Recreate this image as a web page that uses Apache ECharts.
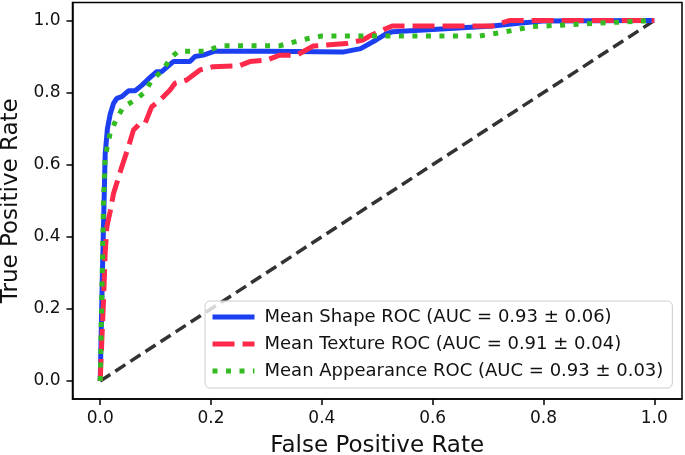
<!DOCTYPE html>
<html>
<head>
<meta charset="utf-8">
<script src="https://cdn.jsdelivr.net/npm/echarts@6/dist/echarts.min.js"></script>
<style>html,body{margin:0;padding:0;background:#fff;}#c{width:685px;height:455px;}</style>
</head>
<body>
<div id="c"></div>
<script>
const tickValues = [0, 0.2, 0.4, 0.6, 0.8, 1.0];
const seriesNames = ['Mean Shape ROC (AUC = 0.93 ± 0.06)', 'Mean Texture ROC (AUC = 0.91 ± 0.04)', 'Mean Appearance ROC (AUC = 0.93 ± 0.03)'];
const shapeFpr = [0, 0.004, 0.007, 0.009, 0.013, 0.018, 0.024, 0.03, 0.039, 0.051, 0.063, 0.075, 0.087, 0.102, 0.111, 0.132, 0.162, 0.171, 0.186, 0.207, 0.30, 0.44, 0.47, 0.498, 0.515, 0.528, 0.6, 0.708, 0.76, 0.804, 1.0];
const shapeTpr = [0, 0.3, 0.5, 0.63, 0.70, 0.74, 0.77, 0.784, 0.789, 0.805, 0.805, 0.82, 0.838, 0.858, 0.858, 0.886, 0.886, 0.9, 0.904, 0.915, 0.915, 0.913, 0.922, 0.946, 0.962, 0.969, 0.975, 0.985, 0.993, 0.999, 1.0];
const textureFpr = [0, 0.003, 0.006, 0.009, 0.012, 0.018, 0.024, 0.039, 0.051, 0.06, 0.072, 0.081, 0.093, 0.108, 0.126, 0.135, 0.156, 0.18, 0.204, 0.25, 0.27, 0.30, 0.324, 0.355, 0.384, 0.444, 0.474, 0.49, 0.527, 0.708, 0.738, 1.0];
const textureTpr = [0, 0.114, 0.225, 0.355, 0.428, 0.47, 0.52, 0.594, 0.65, 0.696, 0.715, 0.715, 0.761, 0.779, 0.807, 0.826, 0.835, 0.863, 0.872, 0.874, 0.886, 0.89, 0.904, 0.904, 0.929, 0.936, 0.946, 0.96, 0.985, 0.985, 1.0, 1.0];
const appearanceFpr = [0, 0.003, 0.006, 0.009, 0.018, 0.03, 0.042, 0.063, 0.081, 0.093, 0.114, 0.126, 0.141, 0.192, 0.216, 0.324, 0.369, 0.40, 0.684, 0.732, 0.78, 0.888, 0.984, 1.0];
const appearanceTpr = [0, 0.25, 0.5, 0.622, 0.688, 0.729, 0.761, 0.779, 0.802, 0.835, 0.863, 0.895, 0.915, 0.915, 0.93, 0.93, 0.948, 0.957, 0.957, 0.969, 0.983, 0.992, 0.999, 1.0];
const chanceFpr = [0, 1];
const chanceTpr = [0, 1];

const zip = (xs, ys) => xs.map((x, i) => [x, ys[i]]);
const FONT = 'DejaVu Sans';
const colors = ['#1c3ff2', '#ff2a4b', '#33bb22'];
const styles = [
  {color: colors[0], width: 5, type: 'solid'},
  {color: colors[1], width: 5, type: [22, 8]},
  {color: colors[2], width: 5, type: [5, 8.5]}
];

const chart = echarts.init(document.getElementById('c'));
chart.setOption({
  animation: false,
  grid: {left: 72.5, right: 3, top: 2.5, bottom: 56, outerBoundsMode: 'none', containLabel: false,
    show: true, borderColor: '#000', borderWidth: 1.5, backgroundColor: 'transparent'},
  xAxis: {
    type: 'value', min: -0.05, max: 1.05,
    splitLine: {show: false},
    axisLine: {show: true, onZero: false, lineStyle: {color: '#000', width: 1.5}},
    axisTick: {show: true, length: 6, lineStyle: {color: '#000', width: 1.5}, customValues: tickValues},
    axisLabel: {customValues: tickValues, formatter: v => v.toFixed(1), fontFamily: FONT, fontSize: 17, color: '#111', margin: 11},
    name: 'False Positive Rate', nameLocation: 'middle', nameGap: 36,
    nameTextStyle: {fontFamily: FONT, fontSize: 23, color: '#111'}
  },
  yAxis: {
    type: 'value', min: -0.05, max: 1.05,
    splitLine: {show: false},
    axisLine: {show: true, onZero: false, lineStyle: {color: '#000', width: 1.5}},
    axisTick: {show: true, length: 6, lineStyle: {color: '#000', width: 1.5}, customValues: tickValues},
    axisLabel: {customValues: tickValues, formatter: v => v.toFixed(1), fontFamily: FONT, fontSize: 17, color: '#111', margin: 12},
    name: 'True Positive Rate', nameLocation: 'middle', nameGap: 49,
    nameTextStyle: {fontFamily: FONT, fontSize: 23, color: '#111'}
  },
  legend: {
    orient: 'vertical', left: 205, top: 301,
    backgroundColor: 'rgba(255,255,255,0.8)', borderColor: '#cccccc', borderWidth: 1, borderRadius: 5,
    padding: [6, 9, 7, 5],
    itemWidth: 42, itemHeight: 14, itemGap: 7,
    textStyle: {fontFamily: FONT, fontSize: 18, color: '#111', lineHeight: 20, padding: [0, 0, 0, 5]},
    data: seriesNames.map((n, i) => ({name: n, lineStyle: styles[i], itemStyle: {opacity: 0}}))
  },
  series: [
    {type: 'line', name: 'chance', data: zip(chanceFpr, chanceTpr), symbol: 'none', z: 1,
      lineStyle: {color: '#333333', width: 3.5, type: [12, 6]}},
    {type: 'line', name: seriesNames[0], data: zip(shapeFpr, shapeTpr), symbol: 'none', z: 2, lineStyle: styles[0], itemStyle: {color: colors[0]}},
    {type: 'line', name: seriesNames[1], data: zip(textureFpr, textureTpr), symbol: 'none', z: 3, lineStyle: styles[1], itemStyle: {color: colors[1]}},
    {type: 'line', name: seriesNames[2], data: zip(appearanceFpr, appearanceTpr), symbol: 'none', z: 4, lineStyle: styles[2], itemStyle: {color: colors[2]}}
  ]
});
</script>
</body>
</html>
